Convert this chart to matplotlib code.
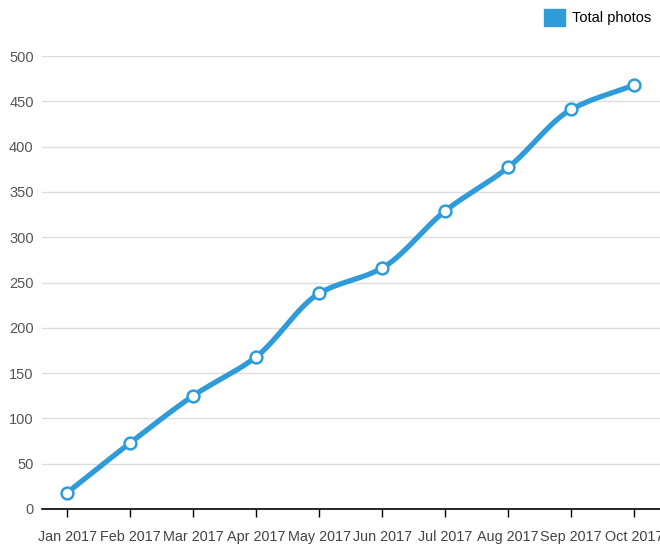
import numpy as np
import matplotlib
matplotlib.use("Agg")
from matplotlib import pyplot as plt
from matplotlib.patches import Patch

months = ["Jan 2017", "Feb 2017", "Mar 2017", "Apr 2017", "May 2017",
          "Jun 2017", "Jul 2017", "Aug 2017", "Sep 2017", "Oct 2017"]
total_photos = [18, 73, 125, 168, 238, 266, 329, 377, 441, 468]
y_ticks = [0, 50, 100, 150, 200, 250, 300, 350, 400, 450, 500]

blue = "#2f9bd8"


def monotone_curve(xs, ys, steps=30):
    """monotone cubic (Fritsch-Carlson) path through the points, just for drawing"""
    xs = np.asarray(xs, float)
    ys = np.asarray(ys, float)
    h = np.diff(xs)
    d = np.diff(ys) / h
    m = np.zeros(len(xs))
    m[0], m[-1] = d[0], d[-1]
    for i in range(1, len(xs) - 1):
        if d[i - 1] * d[i] <= 0:
            m[i] = 0
        else:
            m[i] = (3 * (h[i - 1] + h[i])) / ((2 * h[i] + h[i - 1]) / d[i - 1] + (h[i] + 2 * h[i - 1]) / d[i])
    out_x, out_y = [], []
    for i in range(len(xs) - 1):
        t = np.linspace(0, 1, steps)
        h00 = 2 * t ** 3 - 3 * t ** 2 + 1
        h10 = t ** 3 - 2 * t ** 2 + t
        h01 = -2 * t ** 3 + 3 * t ** 2
        h11 = t ** 3 - t ** 2
        out_x.extend(xs[i] + t * h[i])
        out_y.extend(h00 * ys[i] + h10 * h[i] * m[i] + h01 * ys[i + 1] + h11 * h[i] * m[i + 1])
    return out_x, out_y


plt.rcParams["font.family"] = ["Liberation Sans", "DejaVu Sans"]

fig = plt.figure(figsize=(6.6, 5.48), dpi=100)
ax = fig.add_axes([42 / 660, 39 / 548, 1 - 42 / 660, (509 - 56) / 548])

x = np.arange(len(months))
cx, cy = monotone_curve(x, total_photos)
ax.plot(cx, cy, color=blue, linewidth=3.8, solid_capstyle="round", clip_on=False, zorder=3)
ax.plot(x, total_photos, "o", markersize=8.5, markerfacecolor="white",
        markeredgecolor=blue, markeredgewidth=1.8, clip_on=False, zorder=4)

ax.set_xlim(-0.4, 9.41)
ax.set_ylim(0, 500)
ax.set_xticks(x)
ax.set_xticklabels(months)
ax.set_yticks(y_ticks)

ax.grid(axis="y", color="#dddddd", linewidth=1)
ax.set_axisbelow(True)
for side in ["top", "right", "left"]:
    ax.spines[side].set_visible(False)
ax.spines["bottom"].set_color("black")
ax.spines["bottom"].set_linewidth(1.2)
ax.tick_params(axis="y", length=0, pad=6, labelsize=10.5, labelcolor="#555555")
ax.tick_params(axis="x", length=6, width=1, pad=9, labelsize=10.4, labelcolor="#444444")

fig.legend(handles=[Patch(color=blue, label="Total photos")], loc="upper right",
           bbox_to_anchor=(1.0, 1.0), frameon=False, fontsize=10.5, handlelength=1.4,
           handleheight=1.4, handletextpad=0.5, borderaxespad=0.2)

fig.savefig("out.png", dpi=100)
